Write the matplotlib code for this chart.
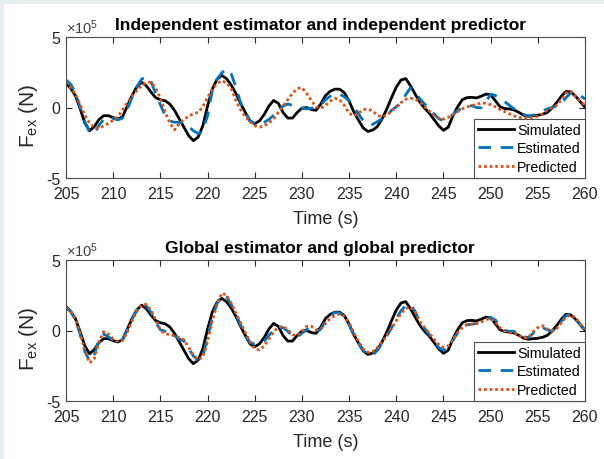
import numpy as np
import matplotlib
matplotlib.use('Agg')
from matplotlib import pyplot as plt
from matplotlib.patches import Rectangle

plt.rcParams['font.family'] = ['Liberation Sans', 'DejaVu Sans']
plt.rcParams['mathtext.fontset'] = 'custom'
plt.rcParams['mathtext.rm'] = 'Liberation Sans'
plt.rcParams['mathtext.it'] = 'Liberation Sans'
plt.rcParams['axes.unicode_minus'] = False

# time axis (s), 0.5 s spacing
t = np.arange(205, 260.01, 0.5)

# excitation force, x1e5 N
simulated = [1.70, 1.35, 0.84, -0.10, -1.10, -1.65, -1.35, -0.85, -0.58, -0.58,
             -0.72, -0.82, -0.65, 0.10, 0.85, 1.45, 1.80, 1.55, 1.10, 0.70,
             0.55, 0.48, 0.25, -0.20, -0.80, -1.40, -2.00, -2.35, -2.10, -1.30,
             0.10, 1.30, 2.00, 2.28, 2.05, 1.60, 1.00, 0.30, -0.35, -0.95,
             -1.15, -0.95, -0.50, 0.10, 0.50, 0.30, -0.35, -0.75, -0.75, -0.35,
             -0.05, 0.00, -0.15, -0.20, 0.25, 0.85, 1.15, 1.30, 1.30, 1.05,
             0.45, -0.30, -0.90, -1.45, -1.70, -1.60, -1.35, -0.80, -0.10, 0.70,
             1.45, 1.95, 2.05, 1.55, 0.95, 0.37, -0.05, -0.40, -0.85, -1.30,
             -1.62, -1.40, -0.60, 0.05, 0.55, 0.70, 0.72, 0.68, 0.80, 0.95,
             0.90, 0.48, 0.05, -0.08, -0.10, -0.18, -0.35, -0.55, -0.62, -0.58,
             -0.55, -0.48, -0.35, -0.05, 0.35, 0.80, 1.15, 1.10, 0.80, 0.41,
             0.02]

est_indep = [1.95, 1.65, 1.05, 0.00, -1.00, -1.75, -1.85, -1.25, -0.85, -0.70,
             -0.78, -0.88, -0.75, -0.10, 0.70, 1.45, 2.00, 2.20, 1.85, 1.00,
             0.20, -0.55, -0.95, -1.05, -1.05, -1.10, -1.35, -1.65, -1.85, -1.60,
             -0.60, 1.20, 2.00, 2.45, 2.75, 2.40, 1.45, 0.35, -0.40, -0.93,
             -1.15, -1.22, -1.05, -0.85, -0.55, -0.20, 0.10, 0.25, 0.15, 0.00,
             -0.05, -0.10, -0.05, 0.00, 0.20, 0.55, 0.80, 0.95, 0.96, 0.75,
             0.50, 0.05, -0.45, -0.95, -1.20, -1.20, -1.00, -0.80, -0.55, -0.20,
             0.05, 0.30, 0.90, 1.40, 1.15, 0.60, 0.25, -0.10, -0.45, -0.80,
             -0.93, -0.80, -0.50, -0.20, -0.05, 0.08, 0.13, 0.00, -0.02, 0.40,
             0.95, 0.85, 0.60, 0.40, 0.15, -0.10, -0.30, -0.50, -0.60, -0.55,
             -0.40, -0.25, -0.10, 0.00, 0.10, 0.30, 0.70, 1.05, 1.05, 0.85,
             0.60]

pred_indep = [1.80, 1.40, 0.96, 0.20, -0.55, -1.10, -1.42, -1.48, -1.30, -1.12,
              -0.90, -0.65, -0.15, 0.35, 0.80, 1.20, 1.55, 1.78, 1.80, 1.40,
              0.65, -0.30, -1.10, -1.58, -1.15, -0.85, -0.62, -0.45, -0.34, 0.05,
              0.70, 1.30, 1.70, 1.90, 1.75, 1.35, 0.50, -0.15, -0.65, -1.00,
              -1.30, -1.40, -1.30, -1.10, -0.80, -0.35, 0.10, 0.55, 1.00, 1.35,
              1.40, 1.00, 0.50, 0.05, -0.05, 0.15, 0.45, 0.65, 0.55, 0.15,
              -0.40, -0.60, -0.40, -0.15, -0.10, -0.25, -0.55, -0.68, -0.55, -0.25,
              0.05, 0.35, 0.58, 0.65, 0.60, 0.40, 0.05, -0.25, -0.55, -0.75,
              -0.82, -0.70, -0.50, -0.30, -0.10, 0.05, 0.13, 0.22, 0.32, 0.30,
              0.20, 0.05, -0.15, -0.30, -0.45, -0.60, -0.70, -0.75, -0.75, -0.70,
              -0.62, -0.45, -0.20, 0.00, 0.15, 0.55, 1.05, 1.15, 0.80, 0.45,
              0.13]

est_global = [1.62, 1.35, 0.75, -0.30, -1.50, -2.16, -1.70, -0.65, -0.25, -0.45,
              -0.70, -0.78, -0.60, 0.05, 0.85, 1.45, 1.85, 1.75, 1.30, 0.60,
              0.05, -0.05, -0.10, -0.35, -0.60, -0.75, -1.30, -1.80, -2.14, -1.80,
              -0.50, 0.90, 1.90, 2.55, 2.40, 1.85, 1.15, 0.40, -0.30, -0.85,
              -0.96, -0.95, -0.75, -0.35, 0.00, 0.22, 0.20, -0.05, -0.40, -0.48,
              -0.20, 0.08, 0.05, -0.15, 0.10, 0.65, 1.05, 1.28, 1.25, 0.95,
              0.40, -0.30, -0.90, -1.40, -1.75, -1.75, -1.40, -0.90, -0.40, 0.20,
              0.85, 1.40, 1.75, 1.88, 1.35, 0.60, 0.15, -0.30, -0.75, -1.20,
              -1.42, -1.25, -0.70, -0.15, 0.20, 0.40, 0.45, 0.50, 0.60, 0.80,
              0.92, 0.75, 0.30, 0.00, -0.05, -0.07, -0.20, -0.45, -0.50, -0.20,
              0.10, 0.20, 0.05, -0.05, 0.20, 0.65, 1.05, 1.17, 0.90, 0.40,
              0.00]

pred_global = [1.60, 1.35, 0.80, -0.20, -1.45, -2.30, -2.00, -0.80, -0.08, -0.25,
               -0.60, -0.78, -0.70, -0.10, 0.70, 1.35, 1.80, 1.85, 1.45, 0.75,
               0.05, -0.25, -0.28, -0.38, -0.50, -0.65, -1.20, -1.75, -2.05, -1.90,
               -0.80, 0.70, 1.85, 2.65, 2.50, 1.95, 1.25, 0.55, -0.15, -0.80,
               -1.30, -1.38, -1.10, -0.60, -0.10, 0.25, 0.30, 0.05, -0.30, -0.35,
               -0.05, 0.30, 0.30, 0.05, 0.10, 0.50, 0.85, 1.05, 1.17, 1.00,
               0.55, -0.15, -0.80, -1.30, -1.55, -1.50, -1.20, -0.80, -0.35, 0.15,
               0.70, 1.20, 1.55, 1.68, 1.30, 0.65, 0.20, -0.20, -0.60, -1.00,
               -1.20, -1.10, -0.65, -0.15, 0.20, 0.42, 0.45, 0.50, 0.60, 0.78,
               0.82, 0.60, 0.20, -0.05, -0.15, -0.20, -0.35, -0.55, -0.50, -0.10,
               0.20, 0.34, 0.10, -0.05, 0.15, 0.55, 0.95, 1.10, 0.90, 0.45,
               0.07]

titles = ['Independent estimator and independent predictor',
          'Global estimator and global predictor']
xticks = np.arange(205, 261, 5)
yticks = [-5, 0, 5]

fig = plt.figure(figsize=(6.04, 4.6), dpi=100)
fig.patch.set_facecolor('#e6eeef')
fig.patches.append(Rectangle((4 / 604, 0), 1, 1 - 5 / 460, transform=fig.transFigure,
                             facecolor='white', edgecolor='none', zorder=-1))

ax1 = fig.add_axes([66 / 604, 1 - 179 / 460, 519 / 604, 141 / 460])
ax2 = fig.add_axes([66 / 604, 1 - 402 / 460, 519 / 604, 141 / 460])

for ax, est, pred, title in [(ax1, est_indep, pred_indep, titles[0]),
                             (ax2, est_global, pred_global, titles[1])]:
    ax.plot(t, simulated, color='black', lw=2.0, label='Simulated')
    ax.plot(t, est, color='#0072BD', lw=2.0, ls=(0, (4.5, 3.5)), label='Estimated')
    ax.plot(t, pred, color='#D95319', lw=2.0, ls=(0, (1, 1)), label='Predicted')
    ax.set_xlim(205, 260)
    ax.set_ylim(-5, 5)
    ax.set_xticks(xticks)
    ax.set_yticks(yticks)
    ax.tick_params(direction='in', top=True, right=True, labelsize=11.5,
                   color='#262626', labelcolor='#262626', length=4)
    ax.tick_params(axis='x', pad=6)
    ax.tick_params(axis='y', pad=4)
    for s in ax.spines.values():
        s.set_color('#4d4d4d')
        s.set_linewidth(0.8)
    ax.set_xlabel('Time (s)', fontsize=13, color='#262626', labelpad=6)
    ax.set_ylabel(r'$\mathregular{F_{ex}}$ (N)', fontsize=15, color='#262626')
    ax.yaxis.set_label_coords(-0.05, 0.45)
    ax.set_title(title, fontsize=12.5, fontweight='bold', x=0.49, pad=6)
    ax.text(0.0, 1.01, r'$\times10^{5}$', transform=ax.transAxes, fontsize=10.5,
            color='#404040', ha='left', va='bottom')
    leg = ax.legend(loc='lower right', fontsize=10.3, fancybox=False, framealpha=1,
                    edgecolor='#4d4d4d', borderpad=0.3, labelspacing=0.3,
                    handlelength=2.5, handletextpad=0.2, borderaxespad=0)
    leg.get_frame().set_linewidth(0.8)

fig.savefig('out.png', dpi=100, facecolor=fig.get_facecolor())
